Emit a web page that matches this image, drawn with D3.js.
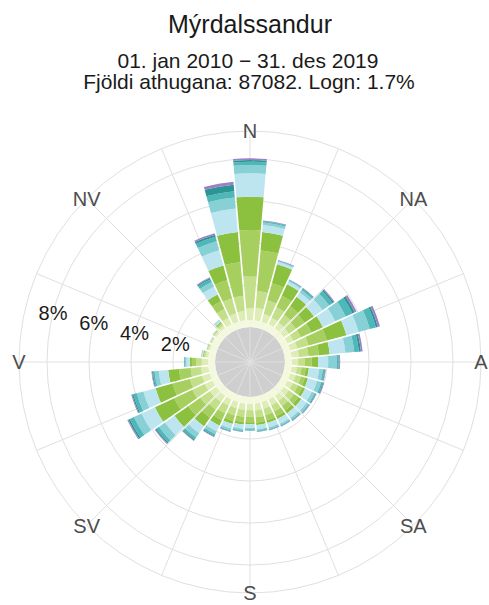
<!DOCTYPE html>
<html>
<head>
<meta charset="utf-8">
<script src="https://cdn.jsdelivr.net/npm/d3@7"></script>
<style>
  body { margin: 0; background: #fff; }
  svg { font-family: "Liberation Sans", Arial, sans-serif; }
</style>
</head>
<body>
<svg id="chart" width="489" height="605"></svg>
<script>
// wind directions, 10 degree sectors
var directions = d3.range(0, 360, 10);
var compass = ["N", "NA", "A", "SA", "S", "SV", "V", "NV"];
var pctTicks = [2, 4, 6, 8];

var title = "Mýrdalssandur";
var subtitle1 = "01. jan 2010 \u2212 31. des 2019";
var subtitle2 = "Fjöldi athugana: 87082. Logn: 1.7%";

// frequency (%) per direction for each speed class, lowest class first
var k1  = [.33,.33,.33,.33,.33,.33,.33,.33,.33,.33,.33,.33,.33,.33,.33,.33,.33,.33,.33,.33,.33,.33,.33,.33,.33,.33,.33,.33,.33,.33,.33,.33,.33,.33,.33,.33];
var k2  = [.56,.60,.38,.35,.32,.30,.30,.35,.35,.30,.25,.27,.28,.30,.30,.30,.32,.32,.30,.30,.30,.32,.35,.37,.40,.38,.35,.30,.12,.08,.07,.10,.15,.35,.40,.44];
var k3  = [1.51,.80,.68,.55,.45,.40,.40,.55,.45,.32,.22,.25,.27,.30,.30,.32,.32,.33,.32,.33,.35,.40,.45,.55,.65,.60,.50,.27,.08,.04,.04,.05,.10,.45,.75,.73];
var k4  = [2.22,1.94,.84,.60,.50,.50,.55,.90,.50,.32,.20,.20,.22,.25,.25,.25,.25,.25,.25,.25,.27,.35,.47,.70,.95,.85,.55,.20,.05,.02,.02,.03,.07,.40,.90,1.60];
var k5  = [1.58,.88,.93,.60,.55,.55,.60,.97,.52,.32,.15,.15,.15,.17,.17,.15,.13,.12,.10,.12,.15,.30,.50,.80,1.02,.84,.52,.10,.02,.01,0,.01,.05,.37,.72,1.45];
var k6  = [1.12,.33,.12,.15,.25,.50,.65,.60,.75,.47,.50,.45,.35,.30,.27,.25,.22,.20,.18,.20,.22,.30,.40,.55,.70,.60,.45,.16,.04,.02,.02,.03,.08,.40,.75,1.12];
var k7  = [.39,.12,.04,.05,.15,.38,.55,.55,.42,.40,.17,.20,.15,.12,.10,.08,.08,.07,.06,.08,.10,.15,.25,.35,.40,.33,.20,.07,.02,0,0,0,.03,.25,.45,.53];
var k8  = [.16,.05,.02,.03,.07,.20,.35,.30,.22,.10,.08,.08,.05,.04,.04,.04,.04,.03,.03,.04,.04,.08,.12,.15,.22,.17,.08,.03,.01,0,0,0,.01,.15,.22,.30];
var k9  = [.08,.03,.01,.01,.03,.07,.12,.10,.10,.03,.03,.04,.03,.02,.02,.02,.02,.02,.02,.02,.02,.04,.05,.06,.08,.06,.04,.01,0,0,0,0,0,.06,.10,.31];
var k10 = [.08,.02,.02,.01,.02,.05,.10,.10,.08,.04,.03,.03,.02,.02,.02,.01,.01,.01,.01,.01,.02,.03,.03,.04,.05,.04,.03,.01,0,0,0,0,0,.04,.07,.14];

var series = [k1, k2, k3, k4, k5, k6, k7, k8, k9, k10];
var keys = ["k1", "k2", "k3", "k4", "k5", "k6", "k7", "k8", "k9", "k10"];
var colors = ["#f3f8de", "#deedb5", "#c3df8a", "#a6cf5f", "#8cc13f",
              "#bde5ef", "#86d0d6", "#4fb7b7", "#2b9494", "#9a80c6"];

var svg = d3.select("#chart"),
    cx = 250, cy = 362,
    outerR = 231;

var rows = directions.map(function(d, i) {
  var r = { dir: d };
  keys.forEach(function(k, j) { r[k] = series[j][i]; });
  return r;
});

var stack = d3.stack().keys(keys)(rows);

var x = d3.scaleBand()
    .domain(directions)
    .range([-Math.PI / 36, 2 * Math.PI - Math.PI / 36])
    .padding(0);

var y = d3.scaleLinear()
    .domain([0, 8])
    .range([35, 203]);

var color = d3.scaleOrdinal().domain(keys).range(colors);

var g = svg.append("g").attr("transform", "translate(" + cx + "," + cy + ")");

// grey hole in the middle
g.append("circle")
    .attr("r", y(0))
    .attr("fill", "#cfcfcf");

// grid
g.append("g").attr("class", "rings")
  .selectAll("circle")
  .data(pctTicks)
  .enter().append("circle")
    .attr("r", function(d) { return y(d); })
    .attr("fill", "none")
    .attr("stroke", "#e0e0e0")
    .attr("stroke-width", 1);

g.append("circle")
    .attr("r", outerR)
    .attr("fill", "none")
    .attr("stroke", "#e0e0e0")
    .attr("stroke-width", 1);

g.append("g").attr("class", "spokes")
  .selectAll("line")
  .data(d3.range(0, 360, 22.5))
  .enter().append("line")
    .attr("x1", 0).attr("y1", 0)
    .attr("x2", function(d) { return outerR * Math.sin(d * Math.PI / 180); })
    .attr("y2", function(d) { return -outerR * Math.cos(d * Math.PI / 180); })
    .attr("stroke", "#e0e0e0")
    .attr("stroke-width", 1);

// stacked bars
var arc = d3.arc()
    .innerRadius(function(d) { return y(d[0]); })
    .outerRadius(function(d) { return y(d[1]); })
    .startAngle(function(d) { return x(d.data.dir); })
    .endAngle(function(d) { return x(d.data.dir) + x.bandwidth(); })
    .padRadius(100);

g.append("g").attr("class", "bars")
  .selectAll("g")
  .data(stack)
  .enter().append("g")
    .attr("fill", function(s) { return color(s.key); })
  .selectAll("path")
  .data(function(s) {
    // lowest class forms a closed ring, no gaps
    s.forEach(function(d) { d.pad = s.key == "k1" ? 0 : 0.016; });
    return s.filter(function(d) { return d[1] > d[0]; });
  })
  .enter().append("path")
    .attr("d", function(d) { return arc.padAngle(d.pad)(d); });

// compass labels
g.append("g").attr("class", "dirlabels")
  .selectAll("text")
  .data(compass)
  .enter().append("text")
    .attr("x", function(d, i) { return outerR * Math.sin(i * Math.PI / 4); })
    .attr("y", function(d, i) { return -outerR * Math.cos(i * Math.PI / 4); })
    .attr("dy", "0.36em")
    .attr("text-anchor", "middle")
    .style("font-size", "20px")
    .style("fill", "#4d4d4d")
    .text(function(d) { return d; });

// percent labels
var labAng = 284 * Math.PI / 180;
g.append("g").attr("class", "pctlabels")
  .selectAll("text")
  .data(pctTicks)
  .enter().append("text")
    .attr("x", function(d) { return y(d) * Math.sin(labAng); })
    .attr("y", function(d) { return -y(d) * Math.cos(labAng); })
    .attr("dy", "0.36em")
    .attr("text-anchor", "middle")
    .style("font-size", "20px")
    .style("fill", "#1a1a1a")
    .text(function(d) { return d + "%"; });

// titles
svg.append("text")
    .attr("x", cx).attr("y", 33)
    .attr("text-anchor", "middle")
    .style("font-size", "25px")
    .style("fill", "#1a1a1a")
    .text(title);

svg.append("text")
    .attr("x", cx - 2).attr("y", 68)
    .attr("text-anchor", "middle")
    .style("font-size", "21px")
    .style("fill", "#1a1a1a")
    .text(subtitle1);

svg.append("text")
    .attr("x", cx - 1).attr("y", 89)
    .attr("text-anchor", "middle")
    .style("font-size", "21px")
    .style("fill", "#1a1a1a")
    .text(subtitle2);
</script>
</body>
</html>
